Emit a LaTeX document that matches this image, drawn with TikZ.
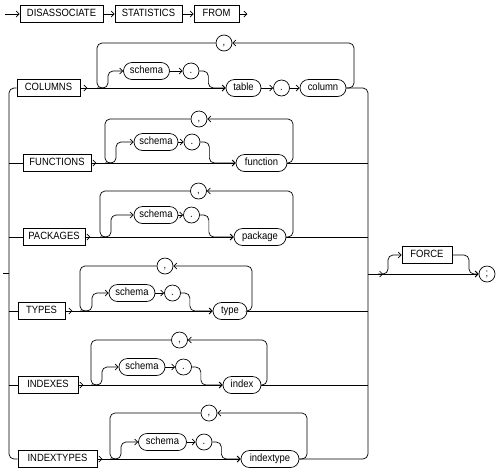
\documentclass[tikz,border=0pt]{standalone}
\usepackage{fontspec}
\setmainfont[FakeStretch=0.9]{Liberation Sans}
\usetikzlibrary{shapes.misc,arrows.meta,calc}
\newcommand\rrfont{\fontsize{10.5}{12}\selectfont}
\begin{document}
\begin{tikzpicture}[x=1pt,y=-1pt,line width=0.7pt,
  kw/.style={draw, rectangle, minimum height=17, inner sep=1, text height=7.6pt, text depth=2.2pt, font=\rrfont},
  ov/.style={draw, rounded rectangle, minimum height=17, inner sep=1, text height=7.6pt, text depth=2.2pt, font=\rrfont},
  pt/.style={draw, rounded rectangle, minimum height=16, minimum width=17, inner sep=0.5, text height=7.6pt, text depth=2.2pt, font=\rrfont},
  ar/.style={-{Straight Barb[length=3pt,width=6pt]}},
  rc/.style={rounded corners=5}]
\useasboundingbox (0,0) rectangle (502,472);
% top row
\coordinate (st) at (5,14);
\node[kw, minimum width=83] (dis) at (61.5,14) {DISASSOCIATE};
\node[kw, minimum width=67] (stat) at (148.5,14) {STATISTICS};
\node[kw, minimum width=45] (from) at (216.5,14) {FROM};
\draw[ar] (st) -- (dis.west);
\draw[ar] (dis.east) -- (stat.west);
\draw[ar] (stat.east) -- (from.west);
\draw[ar] (from.east) -- ++(8,0);
% COLUMNS row
\node[kw, minimum width=63] (kc) at (48.5,88) {COLUMNS};
\node[ov, minimum width=48] (sc) at (146.5,71) {schema};
\node[pt] (dc) at (191,71) {.};
\node[ov, minimum width=37] (tb) at (243.5,88) {table};
\node[pt] (dt) at (281.5,88) {.};
\node[ov, minimum width=48] (cl) at (323,88) {column};
\node[pt] (cc) at (224,43) {,};
\draw[ar] (kc.east) -- ++(7,0);
\draw[ar] (kc.east) -- (tb.west);
\draw[ar,rc] (97,88) -- (108,88) -- (108,71) -- (sc.west);
\draw[ar] (sc.east) -- (dc.west);
\draw[ar,rc] (dc.east) -- ++(9,0) |- (tb.west);
\draw[ar] (tb.east) -- (dt.west);
\draw[ar] (dt.east) -- (cl.west);
\draw[ar,rc] (cl.east) -- (354,88) -- (354,43) -- (cc.east);
\draw[rc] (cc.west) -- (97,43) -- (97,88) -- (105,88);
% FUNCTIONS row
\node[kw, minimum width=68] (kf) at (57,163) {FUNCTIONS};
\node[ov, minimum width=46] (sf) at (156,142) {schema};
\node[pt] (df) at (192,142) {.};
\node[ov, minimum width=53] (fn) at (261.5,163) {function};
\node[pt] (cf) at (199,119) {,};
\draw[ar] (kf.east) -- ++(5,0);
\draw[ar] (kf.east) -- (fn.west);
\draw[ar,rc] (105,163) -- (116,163) -- (116,142) -- (sf.west);
\draw[ar] (sf.east) -- (df.west);
\draw[ar,rc] (df.east) -- ++(9,0) |- (fn.west);
\draw[ar,rc] (fn.east) -- (293,163) -- (293,119) -- (cf.east);
\draw[rc] (cf.west) -- (105,119) -- (105,163) -- (113,163);
% PACKAGES row
\node[kw, minimum width=62] (kp) at (54,237) {PACKAGES};
\node[ov, minimum width=46] (sp) at (156,215) {schema};
\node[pt] (dp) at (191.5,215) {.};
\node[ov, minimum width=54] (pk) at (260,237) {package};
\node[pt] (cp) at (198.5,191) {,};
\draw[ar] (kp.east) -- ++(5,0);
\draw[ar] (kp.east) -- (pk.west);
\draw[ar,rc] (100,237) -- (111,237) -- (111,215) -- (sp.west);
\draw[ar] (sp.east) -- (dp.west);
\draw[ar,rc] (dp.east) -- ++(9,0) |- (pk.west);
\draw[ar,rc] (pk.east) -- (293,237) -- (293,191) -- (cp.east);
\draw[rc] (cp.west) -- (100,191) -- (100,237) -- (108,237);
% TYPES row
\node[kw, minimum width=47] (kt) at (41.5,311) {TYPES};
\node[ov, minimum width=48] (st4) at (132,293) {schema};
\node[pt] (dty) at (172.5,293) {.};
\node[ov, minimum width=36] (ty) at (230,311) {type};
\node[pt] (ct) at (165,266) {,};
\draw[ar] (kt.east) -- ++(7,0);
\draw[ar] (kt.east) -- (ty.west);
\draw[ar,rc] (80,311) -- (92,311) -- (92,293) -- (st4.west);
\draw[ar] (st4.east) -- (dty.west);
\draw[ar,rc] (dty.east) -- ++(9,0) |- (ty.west);
\draw[ar,rc] (ty.east) -- (252,311) -- (252,266) -- (ct.east);
\draw[rc] (ct.west) -- (80,266) -- (80,311) -- (88,311);
% INDEXES row
\node[kw, minimum width=60] (ki) at (48,385) {INDEXES};
\node[ov, minimum width=48] (si) at (142,367) {schema};
\node[pt] (di) at (183.5,367) {.};
\node[ov, minimum width=40] (ix) at (242,385) {index};
\node[pt] (ci) at (179.5,340) {,};
\draw[ar] (ki.east) -- ++(5,0);
\draw[ar] (ki.east) -- (ix.west);
\draw[ar,rc] (91,385) -- (102,385) -- (102,367) -- (si.west);
\draw[ar] (si.east) -- (di.west);
\draw[ar,rc] (di.east) -- ++(9,0) |- (ix.west);
\draw[ar,rc] (ix.east) -- (267,385) -- (267,340) -- (ci.east);
\draw[rc] (ci.west) -- (91,340) -- (91,385) -- (99,385);
% INDEXTYPES row
\node[kw, minimum width=79] (kit) at (57.5,459) {INDEXTYPES};
\node[ov, minimum width=50] (sit) at (162.5,442) {schema};
\node[pt] (dit) at (204,442) {.};
\node[ov, minimum width=60] (itx) at (270,459) {indextype};
\node[pt] (cit) at (209,413) {,};
\draw[ar] (kit.east) -- ++(5,0);
\draw[ar] (kit.east) -- (itx.west);
\draw[ar,rc] (110,459) -- (121,459) -- (121,442) -- (sit.west);
\draw[ar] (sit.east) -- (dit.west);
\draw[ar,rc] (dit.east) -- ++(9,0) |- (itx.west);
\draw[ar,rc] (itx.east) -- (307,459) -- (307,413) -- (cit.east);
\draw[rc] (cit.west) -- (110,413) -- (110,459) -- (118,459);
% left collector
\coordinate (entry) at (3,273);
\draw (entry) -- (9,273);
\draw[rc] (kc.west) -- (9,88) -- (9,459) -- (kit.west);
\draw (9,163) -- (kf.west);
\draw (9,237) -- (kp.west);
\draw (9,311) -- (kt.west);
\draw (9,385) -- (ki.west);
% right collector
\draw[rc] (cl.east) -- (368,88) -- (368,459) -- (itx.east);
\draw (fn.east) -- (368,163);
\draw (pk.east) -- (368,237);
\draw (ty.east) -- (368,311);
\draw (ix.east) -- (368,385);
% FORCE and terminator
\node[kw, minimum width=50] (force) at (427,255) {FORCE};
\node[pt] (semi) at (487,274) {;};
\coordinate (exit) at (368,274);
\draw[ar] (exit) -- (383,274);
\draw[ar] (exit) -- (semi.west);
\draw[ar,rc] (378,274) -- (388,274) -- (388,255) -- (force.west);
\draw[ar,rc] (force.east) -- (469,255) -- (469,274) -- (semi.west);
\end{tikzpicture}
\end{document}
